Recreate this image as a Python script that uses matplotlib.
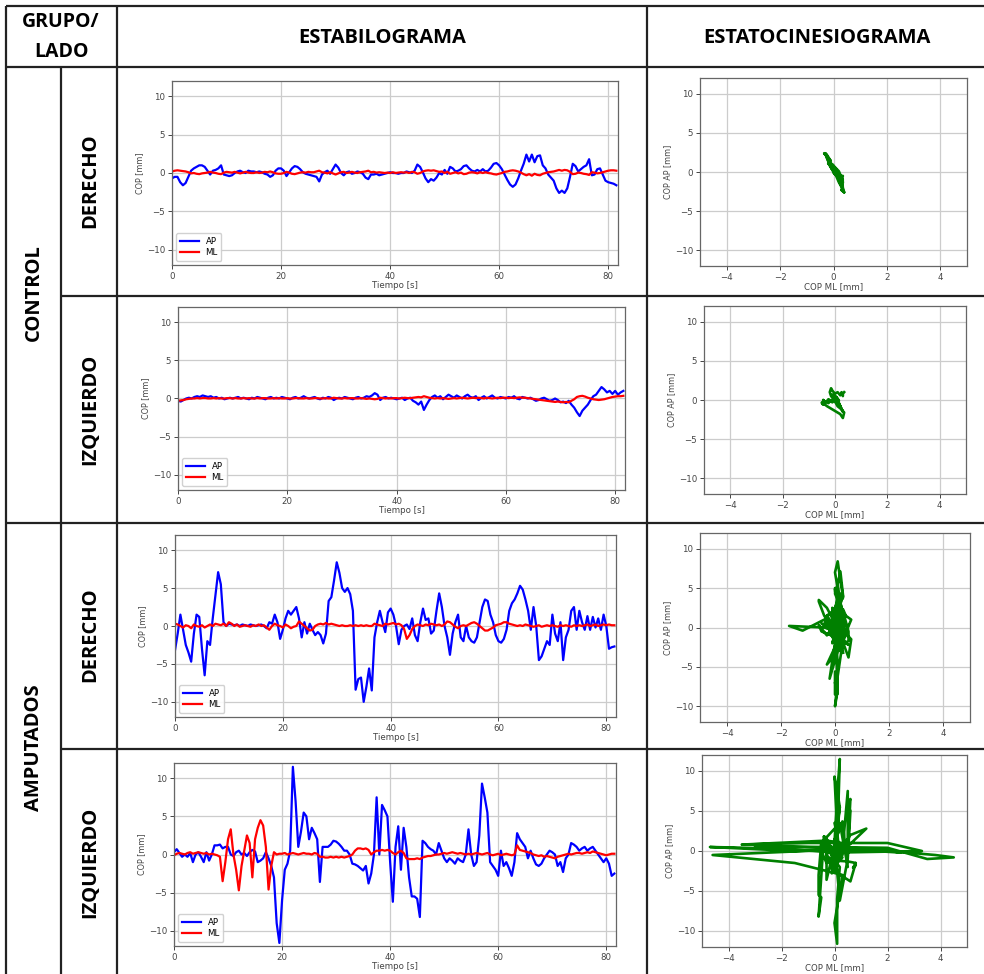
import numpy as np
import matplotlib
matplotlib.use("Agg")
import matplotlib.pyplot as plt

# ---------------- data ----------------
dt = 0.5
# Control - Derecho
cd_ap = [-0.7,-0.5,-0.5,-1.2,-1.6,-1.3,-0.5,0.3,0.6,0.8,
         1.0,1.0,0.8,0.3,-0.2,0.3,0.4,0.6,1.0,-0.2,
         -0.3,-0.4,-0.3,0.0,0.2,0.3,0.1,0.0,0.3,0.2,
         0.2,0.1,0.2,0.1,-0.1,-0.2,-0.5,-0.3,0.3,0.6,
         0.6,0.3,-0.4,0.1,0.6,0.9,0.8,0.5,0.1,-0.1,
         -0.2,-0.3,-0.4,-0.5,-1.1,-0.2,0.1,0.3,-0.1,0.5,
         1.1,0.7,0.0,-0.3,0.1,0.2,-0.1,0.0,0.2,0.1,
         -0.1,-0.6,-0.8,-0.2,-0.2,-0.1,-0.3,-0.2,-0.1,0.0,
         0.1,0.0,0.0,-0.1,0.0,0.0,0.2,0.1,0.0,0.3,
         1.1,0.8,0.1,-0.7,-1.2,-0.8,-1.0,-0.6,0.0,-0.2,
         0.4,-0.1,0.8,0.6,0.2,0.3,0.5,0.9,1.0,0.6,
         0.3,0.2,0.4,0.2,0.5,0.2,0.3,0.7,1.2,1.3,
         1.0,0.5,-0.2,-0.9,-1.5,-1.8,-1.5,-0.7,0.3,1.2,
         2.4,1.5,2.4,1.4,2.2,2.3,1.0,0.6,-0.2,-0.6,
         -1.0,-2.0,-2.6,-2.3,-2.6,-2.0,-0.5,1.2,0.9,0.2,
         0.5,0.8,1.0,1.8,-0.3,-0.2,0.5,0.6,-0.2,-1.0,
         -1.2,-1.3,-1.4,-1.6]
cd_ml = [0.2,0.3,0.35,0.3,0.25,0.2,0.1,-0.05,0.0,-0.1,
         -0.15,-0.05,0.0,0.05,0.15,0.05,0.0,-0.1,-0.15,0.05,
         0.15,0.1,0.05,0.15,0.05,-0.05,0.05,0.15,0.05,0.0,
         0.0,0.1,0.0,0.05,0.15,0.1,0.2,0.1,-0.05,-0.1,
         -0.1,0.0,0.15,0.05,-0.1,-0.15,-0.05,0.05,0.1,0.05,
         0.15,0.1,0.1,0.2,0.3,0.1,0.05,-0.05,0.1,-0.05,
         -0.2,-0.05,0.1,0.15,0.0,0.05,0.15,0.05,0.0,0.1,
         0.15,0.2,0.3,0.1,0.15,0.05,0.1,0.05,0.0,0.05,
         0.0,0.1,0.0,0.05,0.1,0.05,0.1,0.0,0.15,0.1,
         -0.1,0.0,0.2,0.3,0.35,0.3,0.35,0.25,0.15,0.2,
         0.0,0.15,-0.1,0.0,0.1,-0.05,0.05,-0.15,-0.1,0.05,
         0.1,0.05,-0.05,0.1,0.0,0.1,0.0,-0.05,-0.15,-0.2,
         -0.1,0.0,0.15,0.2,0.3,0.35,0.3,0.2,0.05,-0.15,
         -0.3,-0.15,-0.35,-0.1,-0.25,-0.3,-0.1,0.0,0.1,0.15,
         0.2,0.3,0.4,0.3,0.4,0.35,0.15,-0.15,-0.1,0.05,
         0.0,-0.1,-0.15,-0.25,0.1,0.05,-0.05,0.0,0.1,0.2,
         0.3,0.35,0.35,0.3]
# Control - Izquierdo
ci_ap = [-0.3,-0.4,-0.2,0.0,0.1,0.0,0.2,0.3,0.2,0.4,
         0.3,0.2,0.3,0.1,0.2,0.0,0.1,-0.1,0.0,0.1,
         0.0,0.1,0.2,0.0,0.1,0.0,-0.1,0.1,0.0,0.2,
         0.1,0.0,-0.1,0.1,0.2,0.0,0.1,0.0,0.2,0.1,
         0.0,-0.1,0.1,0.2,0.0,0.1,0.3,0.1,0.0,0.1,
         0.2,0.0,-0.1,0.1,0.0,0.2,0.1,-0.2,0.0,0.1,
         0.0,0.2,0.1,0.0,-0.1,0.1,0.2,0.0,0.1,0.3,
         0.2,0.4,0.7,0.5,-0.2,0.1,0.2,0.0,0.1,0.0,
         -0.1,0.0,0.1,-0.2,0.0,0.1,-0.3,-0.5,-0.8,-0.4,
         -1.5,-0.8,-0.2,0.2,0.4,0.1,0.3,-0.1,0.2,0.5,
         0.3,0.1,0.4,0.2,0.0,0.3,0.5,0.2,0.1,0.3,
         -0.2,0.1,0.3,0.0,0.2,0.4,0.1,0.0,0.2,0.1,
         0.0,0.2,0.1,0.3,0.0,-0.1,0.2,0.1,0.0,0.1,
         -0.1,-0.3,-0.2,0.0,0.1,-0.1,-0.3,-0.2,0.0,-0.2,
         -0.5,-0.4,-0.6,-0.3,-0.8,-1.2,-1.8,-2.3,-1.6,-1.2,
         -0.8,-0.2,0.3,0.5,1.0,1.5,1.2,0.8,1.0,0.6,
         1.0,0.5,0.8,1.0]
ci_ml = [-0.3,-0.25,-0.2,-0.1,-0.05,0.0,0.0,0.05,0.0,0.05,
         0.05,0.0,0.0,0.05,0.0,0.05,0.0,0.0,0.05,0.05,
         0.0,0.05,0.0,0.0,0.05,0.0,0.05,0.0,0.0,0.05,
         0.0,0.05,0.05,0.0,0.0,0.05,0.0,0.05,0.0,0.0,
         0.05,0.0,0.0,0.05,0.05,0.0,0.0,0.05,0.0,0.0,
         0.05,0.05,0.0,0.0,0.05,0.0,0.0,0.1,0.05,0.0,
         0.0,0.05,0.0,0.05,0.05,0.0,0.0,0.05,0.0,-0.05,
         0.0,-0.05,-0.1,-0.05,0.1,0.05,0.0,0.05,0.0,0.05,
         0.05,0.0,0.05,0.1,0.05,0.05,0.1,0.15,0.2,0.15,
         0.3,0.2,0.1,0.05,0.0,0.05,0.0,0.05,0.0,-0.05,
         0.0,0.05,0.0,0.05,0.1,0.05,0.0,0.05,0.1,0.05,
         0.1,0.05,0.0,0.1,0.05,0.0,0.05,0.1,0.05,0.1,
         0.1,0.05,0.1,0.05,0.1,0.15,0.1,0.1,0.05,0.0,
         -0.05,-0.1,-0.15,-0.2,-0.25,-0.3,-0.35,-0.4,-0.45,-0.4,
         -0.45,-0.5,-0.45,-0.5,-0.3,-0.1,0.2,0.3,0.35,0.25,
         0.1,0.0,-0.1,-0.15,-0.2,-0.15,-0.1,0.0,0.1,0.2,
         0.25,0.3,0.3,0.35]
# Amputados - Derecho
ad_ap = [-3.2,-1.0,1.5,-0.5,-2.5,-3.5,-4.7,-1.0,1.5,1.2,
         -3.0,-6.5,-2.0,-2.5,1.0,4.0,7.1,5.5,0.5,0.0,
         0.3,0.2,0.1,0.2,0.0,0.2,0.1,0.0,0.2,0.1,
         0.0,0.1,0.2,0.0,-0.3,0.5,0.3,1.5,0.5,-1.7,
         -0.5,1.0,2.0,1.5,2.0,2.5,1.0,-1.5,0.5,-1.0,
         0.3,-0.5,-1.2,-0.8,-1.2,-2.3,-1.0,3.3,3.8,6.0,
         8.4,7.0,5.0,4.5,5.0,4.2,2.0,-8.4,-7.0,-6.8,
         -10.0,-8.0,-5.6,-8.5,-1.5,0.5,2.0,0.5,-0.8,1.8,
         2.3,1.5,0.0,-2.4,-0.5,0.0,0.2,-0.4,1.0,-1.2,
         -2.0,0.5,2.3,0.8,1.0,-1.0,-0.6,2.0,4.3,2.5,
         0.0,-1.5,-3.8,-1.0,0.5,1.5,-1.5,-2.0,0.0,-1.5,
         -2.0,-2.2,-1.5,0.5,2.5,3.5,3.3,1.5,0.5,-1.2,
         -2.0,-2.2,-1.7,-0.5,2.0,3.0,3.5,4.3,5.3,4.8,
         3.5,2.0,-0.5,2.5,0.0,-4.5,-4.0,-3.0,-2.0,-2.5,
         1.5,-1.0,-2.0,0.5,-4.5,-1.5,-0.5,2.0,2.5,-0.5,
         2.0,0.5,-0.5,1.3,-0.5,1.2,-0.2,1.0,-0.5,1.5,
         0.0,-3.0,-2.8,-2.7]
ad_ml = [0.3,0.2,0.0,-0.2,0.1,0.0,-0.3,0.2,0.0,-0.1,
         0.1,-0.2,0.0,0.2,0.0,0.3,0.2,0.1,0.3,0.0,
         0.5,0.3,0.0,0.2,-0.1,0.0,0.1,0.0,-0.1,0.1,
         0.0,0.2,0.0,0.1,-0.2,-0.5,0.0,0.3,0.1,0.0,
         -0.2,0.2,0.0,-0.3,-0.1,0.0,0.6,0.3,0.0,-0.3,
         -0.6,-0.5,0.0,0.2,0.3,0.2,0.4,0.2,0.3,0.2,
         0.1,0.0,0.1,0.0,0.0,0.1,0.0,0.1,0.0,0.1,
         0.0,0.1,0.0,0.0,0.3,0.2,0.1,0.0,0.3,0.2,
         0.3,0.4,0.2,0.3,0.1,-0.4,-1.7,-1.2,-0.4,0.0,
         0.2,0.1,0.0,0.2,0.1,0.3,0.2,0.1,0.2,0.0,
         0.2,0.6,0.5,0.2,-0.1,-0.3,0.0,0.1,0.0,0.2,
         0.4,0.5,0.3,0.0,-0.3,-0.6,-0.6,-0.4,-0.2,0.1,
         0.2,0.3,0.5,0.5,0.3,0.2,0.1,0.0,0.1,0.0,
         0.2,0.1,0.0,-0.1,0.0,0.1,-0.1,0.0,0.1,0.0,
         0.1,0.0,-0.1,0.1,0.0,0.1,0.0,-0.1,0.1,0.0,
         0.1,0.0,0.1,0.2,0.0,0.1,0.2,0.0,0.1,0.2,
         0.1,0.2,0.1,0.1]
# Amputados - Izquierdo
ai_ap = [0.3,0.7,0.2,-0.3,0.0,-0.3,0.2,-1.0,0.0,0.3,
         -0.3,-1.0,0.3,-0.8,0.0,1.2,1.2,1.3,0.8,1.0,
         1.0,0.0,-0.2,0.3,0.5,0.0,0.2,-0.2,0.3,0.6,
         0.4,-1.0,-0.8,-0.5,0.3,-0.5,-1.5,-3.0,-9.0,-11.6,
         -6.0,-2.0,-1.2,0.5,11.5,7.0,1.0,3.0,5.5,5.0,
         2.0,3.5,2.8,2.0,-3.6,1.0,1.0,1.0,1.3,1.8,
         1.7,1.4,1.0,0.5,0.5,0.0,-1.2,-1.3,-1.5,-1.8,
         -2.1,-1.5,-3.8,-2.5,0.0,7.5,0.0,6.5,5.8,5.0,
         -1.0,-6.2,1.0,3.7,-2.0,3.5,1.0,-3.0,-5.5,-5.5,
         -5.8,-8.2,1.8,1.5,1.0,0.7,0.5,0.0,1.5,0.5,
         -0.5,-1.0,-0.5,-0.8,-1.2,-0.5,-0.8,-1.0,0.0,3.3,
         0.0,-1.5,-1.0,2.5,9.3,7.5,5.5,-1.0,-1.5,-2.0,
         -2.8,0.5,-1.5,-1.0,-1.8,-2.8,-1.0,2.8,2.0,1.5,
         1.0,-0.5,0.5,-0.5,-1.3,-1.5,-1.2,-0.5,0.0,0.5,
         0.3,0.0,-1.5,-1.0,-2.3,-0.5,0.0,1.5,1.3,1.0,
         0.5,0.8,1.0,0.5,0.8,1.0,0.5,0.0,-0.5,-1.0,
         -0.5,-1.2,-2.8,-2.5]
ai_ml = [-0.1,0.1,0.2,0.1,0.0,0.2,0.3,0.1,0.2,0.3,
         0.2,0.1,0.2,0.0,0.1,0.0,-0.1,-0.3,-3.5,-1.0,
         2.0,3.3,0.0,-2.0,-4.7,-1.5,0.5,2.5,1.5,-3.0,
         2.0,3.5,4.5,3.8,1.0,-4.6,-1.5,0.3,0.0,0.1,
         0.1,0.2,0.0,0.1,0.2,0.1,0.0,0.1,0.2,0.1,
         0.1,0.0,0.2,0.1,-0.3,-0.3,-0.4,-0.4,-0.3,-0.4,
         -0.3,-0.4,-0.3,-0.4,-0.3,-0.2,0.0,0.5,0.8,0.8,
         0.7,0.8,0.6,0.0,0.3,0.5,0.5,0.6,0.5,0.6,
         0.5,0.2,0.0,0.3,0.5,0.2,-0.5,-0.6,-0.6,-0.6,
         -0.5,-0.6,-0.4,-0.3,-0.2,-0.2,-0.1,0.0,0.0,0.1,
         0.2,0.1,0.2,0.3,0.2,0.1,0.2,0.1,0.0,0.1,
         0.0,0.1,0.2,0.1,0.0,0.1,0.2,0.0,-0.1,0.0,
         0.1,-0.1,0.0,0.1,0.0,-0.1,0.0,1.2,0.6,0.5,
         0.4,0.3,0.2,0.0,-0.1,-0.2,-0.1,-0.3,-0.2,-0.3,
         -0.4,-0.5,-0.3,-0.2,-0.1,0.0,0.1,0.0,0.1,0.2,
         0.2,0.1,0.2,0.3,0.2,0.4,0.3,0.2,0.1,0.0,
         -0.1,0.0,0.1,0.1]

groups = ["CONTROL", "AMPUTADOS"]
sides = ["DERECHO", "IZQUIERDO", "DERECHO", "IZQUIERDO"]
headers = ["GRUPO/", "LADO", "ESTABILOGRAMA", "ESTATOCINESIOGRAMA"]
series = [(cd_ap, cd_ml), (ci_ap, ci_ml), (ad_ap, ad_ml), (ai_ap, ai_ml)]

# ---------------- layout (pixels) ----------------
W, H = 984, 974
fig = plt.figure(figsize=(W / 100, H / 100), dpi=100)

def rect(l, t, r, b):
    return [l / W, 1 - b / H, (r - l) / W, (b - t) / H]

stab_boxes = [(172, 81, 618, 265), (178, 307, 625, 490),
              (175, 535, 616, 717), (174, 763, 616, 946)]
stat_boxes = [(700, 78, 967, 266), (704, 306, 966, 494),
              (700, 533, 970, 722), (702, 755, 967, 947)]

# table background
bg = fig.add_axes([0, 0, 1, 1])
bg.set_xlim(0, W)
bg.set_ylim(H, 0)
bg.axis("off")
lc = "#222222"
lw = 1.6
for x, y0 in [(6, 6), (61, 67), (117, 6), (647, 6)]:
    bg.plot([x, x], [y0, H], color=lc, lw=lw, solid_capstyle="butt")
for y, x0 in [(6, 6), (67, 6), (296, 61), (523, 6), (749, 61)]:
    bg.plot([x0, W], [y, y], color=lc, lw=lw, solid_capstyle="butt")

hfont = dict(family=["Open Sans", "DejaVu Sans"], fontweight="bold",
             color="black")
hs = 14.5
bg.text(61, 22, headers[0], ha="center", va="center", fontsize=hs - 0.5, **hfont)
bg.text(61, 52, headers[1], ha="center", va="center", fontsize=hs - 0.5, **hfont)
bg.text(382, 38, headers[2], ha="center", va="center", fontsize=hs, **hfont)
bg.text(817, 38, headers[3], ha="center", va="center", fontsize=hs, **hfont)
bg.text(34, 293, groups[0], ha="center", va="center", rotation=90,
        fontsize=hs, **hfont)
bg.text(34, 748, groups[1], ha="center", va="center", rotation=90,
        fontsize=hs, **hfont)
side_y = [181, 409, 635, 862]
for s, yy in zip(sides, side_y):
    bg.text(90, yy, s, ha="center", va="center", rotation=90,
            fontsize=hs, **hfont)

tick_col = "#444444"
fs = 6.2

def style(ax):
    ax.grid(True, color="#cccccc", lw=0.9)
    ax.set_axisbelow(True)
    for sp in ax.spines.values():
        sp.set_color("#666666")
        sp.set_linewidth(0.9)
    ax.tick_params(labelsize=fs, colors=tick_col, length=3, width=0.7,
                   pad=2)

for i, (ap, ml) in enumerate(series):
    ap = np.asarray(ap)
    ml = np.asarray(ml)
    t = np.arange(len(ap)) * dt
    ax = fig.add_axes(rect(*stab_boxes[i]))
    ax.plot(t, ap, color="blue", lw=1.6, label="AP")
    ax.plot(t, ml, color="red", lw=1.6, label="ML")
    ax.set_xlim(0, t[-1] + 0.3)
    ax.set_ylim(-12, 12)
    ax.set_xticks([0, 20, 40, 60, 80])
    ax.set_yticks([-10, -5, 0, 5, 10])
    ax.set_xlabel("Tiempo [s]", fontsize=fs, color=tick_col, labelpad=0)
    ax.set_ylabel("COP [mm]", fontsize=fs - 0.4, color=tick_col, labelpad=2)
    style(ax)
    ax.legend(loc="lower left", fontsize=fs, handlelength=2.2,
              borderpad=0.4, labelspacing=0.3, framealpha=0.9)

    ax2 = fig.add_axes(rect(*stat_boxes[i]))
    ax2.plot(ml, ap, color="green", lw=1.9)
    ax2.set_xlim(-5, 5)
    ax2.set_ylim(-12, 12)
    ax2.set_xticks([-4, -2, 0, 2, 4])
    ax2.set_yticks([-10, -5, 0, 5, 10])
    ax2.set_xlabel("COP ML [mm]", fontsize=fs, color=tick_col, labelpad=0)
    ax2.set_ylabel("COP AP [mm]", fontsize=fs - 0.4, color=tick_col, labelpad=2)
    style(ax2)

fig.savefig("out.png", dpi=100)
